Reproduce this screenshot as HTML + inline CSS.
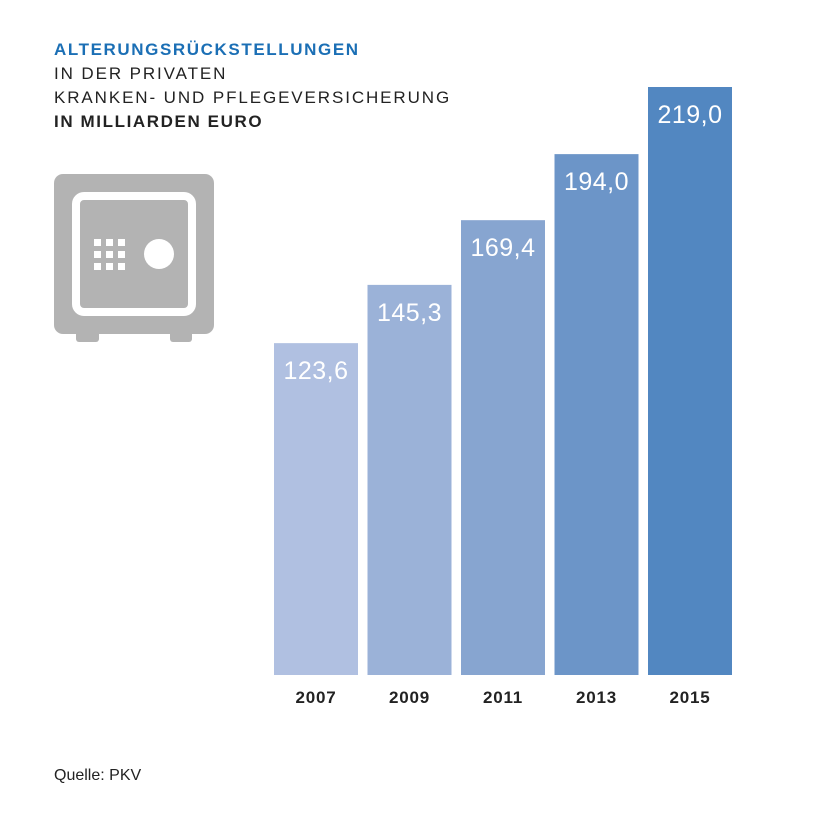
<!DOCTYPE html>
<html><head><meta charset="utf-8"><style>
body{margin:0;background:#fff;width:820px;height:820px;overflow:hidden;font-family:"Liberation Sans",sans-serif}
.t{position:absolute;left:54px;font-size:17px;letter-spacing:1.9px;color:#222;white-space:nowrap;line-height:24px}
</style></head><body>
<div class="t" style="top:38px;color:#1b6fb5;font-weight:bold;letter-spacing:1.6px">ALTERUNGSRÜCKSTELLUNGEN</div>
<div class="t" style="top:62px">IN DER PRIVATEN</div>
<div class="t" style="top:86px">KRANKEN- UND PFLEGEVERSICHERUNG</div>
<div class="t" style="top:110px;font-weight:bold;letter-spacing:1.6px">IN MILLIARDEN EURO</div>
<svg width="820" height="820" style="position:absolute;left:0;top:0" id="svg">
<g>
<rect x="76" y="328" width="23" height="14" rx="3" fill="#b3b3b3"/>
<rect x="170" y="328" width="22" height="14" rx="3" fill="#b3b3b3"/>
<rect x="54" y="174" width="160" height="160" rx="9" fill="#b3b3b3"/>
<rect x="76" y="196" width="116" height="116" rx="8" fill="none" stroke="#fff" stroke-width="8"/>
<g fill="#fff" id="keys"></g>
<circle cx="159" cy="254" r="15" fill="#fff"/>
</g>
<g id="bars"></g>
<text x="54" y="780" font-size="16" fill="#222">Quelle: PKV</text>
</svg>
<script>
const categories=["2007","2009","2011","2013","2015"];
const values=[123.6,145.3,169.4,194.0,219.0];
const labels=["123,6","145,3","169,4","194,0","219,0"];
const colors=["#b0c0e1","#9bb2d8","#87a5d0","#6c95c8","#5287c1"];
const NS="http://www.w3.org/2000/svg";
const k=document.getElementById('keys');
for(let r=0;r<3;r++)for(let c=0;c<3;c++){const q=document.createElementNS(NS,'rect');q.setAttribute('x',94+c*12);q.setAttribute('y',239+r*12);q.setAttribute('width',7);q.setAttribute('height',7);k.appendChild(q);}
const base=675,scale=588/219;
const y=v=>base-v*scale;
const x=i=>274+i*93.5;
const g=document.getElementById('bars');
categories.forEach((c,i)=>{
 const r=document.createElementNS(NS,'rect');
 
 
 r.setAttribute('x',x(i));r.setAttribute('width',84);
 r.setAttribute('y',y(values[i]));r.setAttribute('height',base-y(values[i]));
 r.setAttribute('fill',colors[i]);g.appendChild(r);
 const t=document.createElementNS(NS,'text');
 
 
 t.setAttribute('x',x(i)+42);t.setAttribute('y',y(values[i])+36);
 t.setAttribute('text-anchor','middle');t.setAttribute('font-size','25');t.setAttribute('fill','#fff');
 t.setAttribute('letter-spacing','0.5');
 t.textContent=labels[i];g.appendChild(t);
 const a=document.createElementNS(NS,'text');
 
 
 a.setAttribute('x',x(i)+42);a.setAttribute('y',703);
 a.setAttribute('text-anchor','middle');a.setAttribute('font-size','17');a.setAttribute('font-weight','bold');a.setAttribute('fill','#222');
 a.setAttribute('letter-spacing','0.8');
 a.textContent=c;g.appendChild(a);
});
</script>
</body></html>
